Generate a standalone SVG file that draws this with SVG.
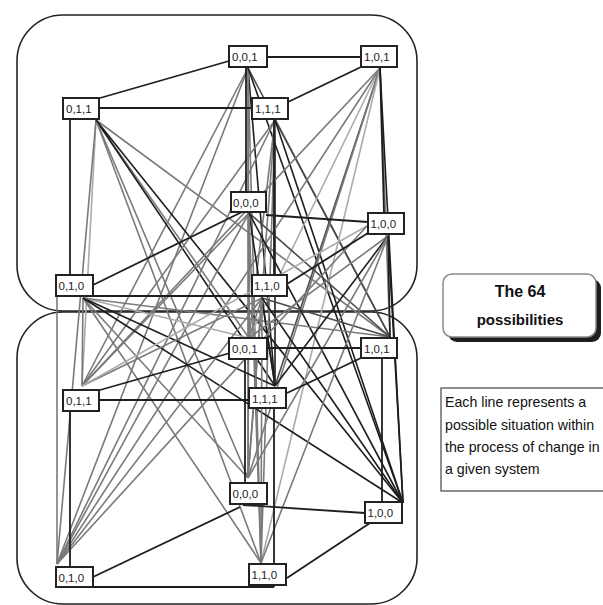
<svg xmlns="http://www.w3.org/2000/svg" width="603" height="605" viewBox="0 0 603 605">
<style>
.panel{fill:none;stroke:#222;stroke-width:1.6}
.node rect{fill:#fff;stroke:#222;stroke-width:2}
.node text{font-family:"Liberation Sans",Arial,sans-serif;font-size:11.5px;fill:#222}
#connectors line{stroke-width:1.6;fill:none}
.k{stroke:#1e1e1e}
.d{stroke:#4a4a4a}
.g{stroke:#7a7a7a}
.l{stroke:#ababab}
.e{stroke:#1e1e1e;stroke-width:1.8 !important}
.title{font-family:"Liberation Sans",Arial,sans-serif;font-size:15px;font-weight:bold;fill:#111;text-anchor:middle}
.note{font-family:"Liberation Sans",Arial,sans-serif;font-size:14.2px;fill:#111}
</style>
<rect class="panel" x="17" y="15" width="400" height="296" rx="46"/>
<rect class="panel" x="17" y="312" width="400" height="292" rx="46"/>
<g id="connectors">
<line class="g" x1="248" y1="68" x2="249" y2="338"/>
<line class="g" x1="248" y1="68" x2="82" y2="386"/>
<line class="k" x1="248" y1="68" x2="275" y2="386"/>
<line class="d" x1="248" y1="68" x2="390" y2="337"/>
<line class="g" x1="248" y1="68" x2="248" y2="478"/>
<line class="g" x1="248" y1="68" x2="57" y2="564"/>
<line class="g" x1="248" y1="68" x2="261" y2="563"/>
<line class="k" x1="248" y1="68" x2="403" y2="503"/>
<line class="g" x1="96" y1="120" x2="249" y2="338"/>
<line class="l" x1="96" y1="120" x2="82" y2="386"/>
<line class="k" x1="96" y1="120" x2="275" y2="386"/>
<line class="g" x1="96" y1="120" x2="390" y2="337"/>
<line class="g" x1="96" y1="120" x2="248" y2="478"/>
<line class="g" x1="96" y1="120" x2="57" y2="564"/>
<line class="g" x1="96" y1="120" x2="261" y2="563"/>
<line class="k" x1="96" y1="120" x2="403" y2="503"/>
<line class="g" x1="275" y1="120" x2="249" y2="338"/>
<line class="g" x1="275" y1="120" x2="82" y2="386"/>
<line class="k" x1="275" y1="120" x2="275" y2="386"/>
<line class="d" x1="275" y1="120" x2="390" y2="337"/>
<line class="g" x1="275" y1="120" x2="248" y2="478"/>
<line class="g" x1="275" y1="120" x2="57" y2="564"/>
<line class="g" x1="275" y1="120" x2="261" y2="563"/>
<line class="k" x1="275" y1="120" x2="403" y2="503"/>
<line class="l" x1="380" y1="68" x2="249" y2="338"/>
<line class="g" x1="380" y1="68" x2="82" y2="386"/>
<line class="d" x1="380" y1="68" x2="275" y2="386"/>
<line class="g" x1="380" y1="68" x2="390" y2="337"/>
<line class="g" x1="380" y1="68" x2="248" y2="478"/>
<line class="g" x1="380" y1="68" x2="57" y2="564"/>
<line class="l" x1="380" y1="68" x2="261" y2="563"/>
<line class="k" x1="380" y1="68" x2="403" y2="503"/>
<line class="g" x1="249" y1="213" x2="249" y2="338"/>
<line class="g" x1="249" y1="213" x2="82" y2="386"/>
<line class="k" x1="249" y1="213" x2="275" y2="386"/>
<line class="d" x1="249" y1="213" x2="390" y2="337"/>
<line class="g" x1="249" y1="213" x2="248" y2="478"/>
<line class="g" x1="249" y1="213" x2="57" y2="564"/>
<line class="g" x1="249" y1="213" x2="261" y2="563"/>
<line class="k" x1="249" y1="213" x2="403" y2="503"/>
<line class="l" x1="83" y1="298" x2="249" y2="338"/>
<line class="g" x1="83" y1="298" x2="82" y2="386"/>
<line class="k" x1="83" y1="298" x2="275" y2="386"/>
<line class="g" x1="83" y1="298" x2="390" y2="337"/>
<line class="g" x1="83" y1="298" x2="248" y2="478"/>
<line class="g" x1="57" y1="297" x2="57" y2="564"/>
<line class="g" x1="83" y1="298" x2="261" y2="563"/>
<line class="k" x1="83" y1="298" x2="403" y2="503"/>
<line class="g" x1="262" y1="298" x2="249" y2="338"/>
<line class="g" x1="262" y1="298" x2="82" y2="386"/>
<line class="k" x1="262" y1="298" x2="275" y2="386"/>
<line class="d" x1="262" y1="298" x2="390" y2="337"/>
<line class="g" x1="262" y1="298" x2="248" y2="478"/>
<line class="g" x1="262" y1="298" x2="57" y2="564"/>
<line class="g" x1="262" y1="298" x2="261" y2="563"/>
<line class="k" x1="262" y1="298" x2="403" y2="503"/>
<line class="g" x1="388" y1="236" x2="249" y2="338"/>
<line class="l" x1="367" y1="226" x2="82" y2="386"/>
<line class="k" x1="388" y1="236" x2="275" y2="386"/>
<line class="k" x1="388" y1="236" x2="390" y2="337"/>
<line class="g" x1="388" y1="236" x2="248" y2="478"/>
<line class="g" x1="367" y1="226" x2="57" y2="564"/>
<line class="g" x1="388" y1="236" x2="261" y2="563"/>
<line class="k" x1="388" y1="236" x2="403" y2="503"/>
<line class="e" x1="267" y1="57" x2="361" y2="57"/>
<line class="e" x1="100" y1="98" x2="229" y2="61"/>
<line class="e" x1="99" y1="108" x2="252" y2="108"/>
<line class="e" x1="288" y1="102" x2="361" y2="67"/>
<line class="e" x1="70" y1="119" x2="70" y2="275"/>
<line class="e" x1="246" y1="67" x2="246" y2="192"/>
<line class="e" x1="274" y1="119" x2="274" y2="275"/>
<line class="e" x1="93" y1="296" x2="252" y2="296"/>
<line class="e" x1="380" y1="67" x2="384" y2="213"/>
<line class="e" x1="266" y1="215" x2="368" y2="222"/>
<line class="e" x1="242" y1="212" x2="93" y2="285"/>
<line class="e" x1="287" y1="284" x2="368" y2="233"/>
<line class="e" x1="267" y1="348" x2="361" y2="348"/>
<line class="e" x1="100" y1="390" x2="230" y2="353"/>
<line class="e" x1="99" y1="400" x2="249" y2="400"/>
<line class="e" x1="287" y1="393" x2="361" y2="358"/>
<line class="e" x1="70" y1="411" x2="70" y2="567"/>
<line class="e" x1="245" y1="359" x2="245" y2="483"/>
<line class="e" x1="274" y1="408" x2="274" y2="587"/>
<line class="e" x1="93" y1="587" x2="274" y2="587"/>
<line class="e" x1="382" y1="358" x2="382" y2="502"/>
<line class="e" x1="243" y1="505" x2="365" y2="513"/>
<line class="e" x1="240" y1="507" x2="93" y2="577"/>
<line class="e" x1="287" y1="578" x2="370" y2="523"/>
</g>
<g id="t001" class="node"><rect x="229" y="46" width="38" height="21"/><text x="232" y="61">0,0,1</text></g>
<g id="t011" class="node"><rect x="63" y="98" width="36" height="21"/><text x="66" y="113">0,1,1</text></g>
<g id="t111" class="node"><rect x="252" y="98" width="36" height="21"/><text x="255" y="113">1,1,1</text></g>
<g id="t101" class="node"><rect x="361" y="46" width="36" height="21"/><text x="364" y="61">1,0,1</text></g>
<g id="t000" class="node"><rect x="231" y="192" width="35" height="20"/><text x="233" y="207">0,0,0</text></g>
<g id="t100" class="node"><rect x="368" y="213" width="36" height="21"/><text x="370.5" y="228">1,0,0</text></g>
<g id="t010" class="node"><rect x="56" y="275" width="37" height="21"/><text x="58.5" y="290">0,1,0</text></g>
<g id="t110" class="node"><rect x="252" y="275" width="35" height="21"/><text x="254" y="290">1,1,0</text></g>
<g id="b001" class="node"><rect x="229" y="338" width="38" height="21"/><text x="232" y="353">0,0,1</text></g>
<g id="b011" class="node"><rect x="63" y="390" width="36" height="21"/><text x="66" y="405">0,1,1</text></g>
<g id="b111" class="node"><rect x="249" y="388" width="37" height="20"/><text x="252" y="403">1,1,1</text></g>
<g id="b101" class="node"><rect x="361" y="338" width="36" height="20"/><text x="364" y="353">1,0,1</text></g>
<g id="b000" class="node"><rect x="230" y="483" width="37" height="21"/><text x="232.5" y="498">0,0,0</text></g>
<g id="b100" class="node"><rect x="365" y="502" width="37" height="21"/><text x="367.5" y="517">1,0,0</text></g>
<g id="b010" class="node"><rect x="56" y="567" width="37" height="20"/><text x="58.5" y="582">0,1,0</text></g>
<g id="b110" class="node"><rect x="249" y="564" width="37" height="21"/><text x="251.5" y="579">1,1,0</text></g>
<g id="title">
<rect x="448" y="279" width="153" height="63" rx="9" fill="#1e1e1e"/>
<rect x="443" y="274" width="153" height="63" rx="9" fill="#fff" stroke="#8a8a8a" stroke-width="1.5"/>
<text class="title" x="520" y="297" style="font-size:16px">The 64</text>
<text class="title" x="520" y="325">possibilities</text>
</g>
<g id="note">
<rect x="441" y="388" width="180" height="103" fill="#fff" stroke="#444" stroke-width="1.2"/>
<text class="note" x="445" y="407">Each line represents a</text>
<text class="note" x="445" y="430">possible situation within</text>
<text class="note" x="445" y="452">the process of change in</text>
<text class="note" x="445" y="474">a given system</text>
</g>
</svg>
